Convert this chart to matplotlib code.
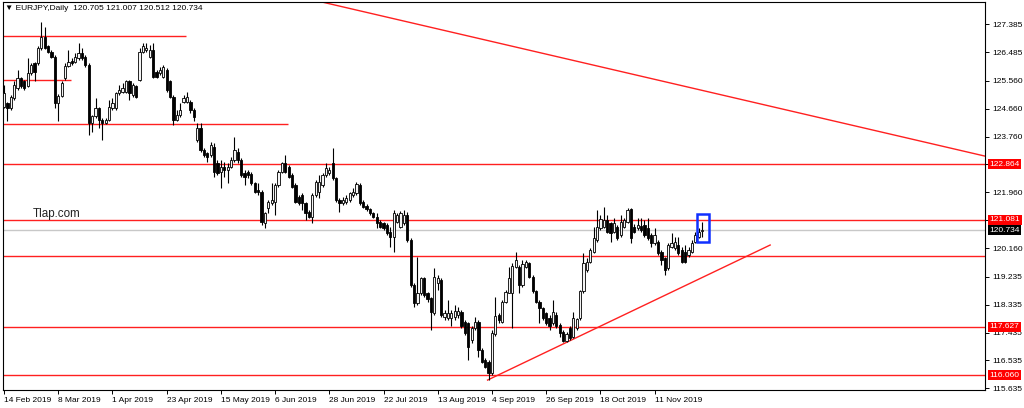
import matplotlib
matplotlib.use('Agg')
import matplotlib.pyplot as plt
import numpy as np
from matplotlib.patches import Rectangle

plt.rcParams['font.family'] = ['Liberation Sans', 'DejaVu Sans']

# EURJPY daily candles, 14 Feb 2019 .. end Nov 2019
opens = [
    124.73, 124.84, 124.67, 125.00, 125.32, 125.64, 125.54, 125.38, 125.81, 126.13,
    126.13, 126.61, 126.99, 126.67, 126.50, 126.34, 124.84, 125.07, 125.64, 126.04,
    126.21, 126.18, 126.29, 126.45, 126.34, 126.07, 124.21, 124.41, 124.67, 124.30,
    124.21, 124.30, 124.67, 124.67, 125.16, 125.21, 125.21, 125.54, 125.11, 125.38,
    125.59, 126.50, 126.56, 126.34, 126.56, 125.86, 125.81, 125.70, 125.91, 125.54,
    125.05, 124.30, 124.46, 124.89, 124.89, 124.89, 124.62, 123.65, 124.03, 123.33,
    123.22, 123.17, 123.44, 122.90, 122.63, 122.79, 122.68, 122.79, 123.00, 123.27,
    123.00, 122.57, 122.61, 122.54, 122.25, 122.04, 121.98, 120.96, 121.44, 121.61,
    121.66, 122.20, 122.63, 122.90, 122.79, 122.52, 122.20, 121.82, 121.88, 121.61,
    121.34, 121.18, 121.88, 121.98, 122.20, 122.52, 122.57, 122.90, 122.41, 121.71,
    121.61, 121.64, 121.71, 121.87, 121.93, 122.20, 121.66, 121.52, 121.41, 121.28,
    121.18, 121.01, 120.96, 120.91, 120.69, 120.53, 121.01, 120.85, 120.96, 121.23,
    120.42, 118.97, 118.38, 118.70, 119.19, 118.70, 118.54, 118.05, 119.02, 119.13,
    117.95, 117.92, 117.92, 117.95, 118.00, 118.11, 117.79, 117.73, 117.19, 117.57,
    117.79, 116.87, 116.55, 116.49, 116.14, 117.39, 118.00, 117.79, 118.43, 118.72,
    118.70, 119.56, 119.56, 118.97, 119.56, 119.67, 119.24, 118.76, 118.43, 118.22,
    118.06, 117.89, 117.73, 118.00, 117.68, 117.46, 117.16, 117.57, 117.30, 117.57,
    117.89, 118.76, 119.45, 119.72, 120.05, 120.42, 120.80, 120.85, 121.07, 120.96,
    120.69, 120.85, 120.58, 120.85, 121.01, 121.42, 120.85, 120.80, 120.88, 120.91,
    120.80, 120.58, 120.31, 120.37, 120.05, 119.83, 119.51, 120.21, 120.15, 120.26,
    120.10, 120.05, 119.94, 120.05, 120.37, 120.53, 120.705,
]
highs = [
    125.43, 124.89, 125.11, 125.54, 125.91, 125.70, 125.59, 126.29, 126.13, 126.18,
    126.67, 127.47, 127.31, 126.72, 126.56, 126.40, 125.14, 125.54, 126.13, 126.56,
    126.29, 126.45, 126.77, 126.61, 126.40, 126.13, 124.46, 125.00, 124.73, 124.35,
    124.35, 124.94, 125.00, 125.21, 125.43, 125.48, 125.59, 125.59, 125.48, 125.43,
    126.61, 126.77, 126.77, 126.72, 126.77, 125.91, 126.02, 126.07, 125.97, 125.59,
    125.11, 124.62, 124.83, 125.10, 125.21, 124.94, 124.67, 124.19, 124.19, 123.38,
    123.27, 123.60, 123.54, 123.00, 123.00, 122.95, 122.90, 123.11, 123.76, 123.38,
    123.06, 122.68, 122.68, 122.63, 122.31, 122.25, 122.04, 121.34, 121.71, 122.25,
    122.25, 122.68, 122.95, 123.17, 122.84, 122.57, 122.25, 121.88, 121.93, 121.66,
    121.39, 121.93, 122.36, 122.52, 122.57, 122.90, 122.79, 123.38, 122.47, 121.77,
    121.82, 121.88, 121.98, 122.09, 122.31, 122.25, 121.71, 121.58, 121.44, 121.34,
    121.28, 121.07, 121.01, 120.96, 120.85, 121.39, 121.28, 121.37, 121.39, 121.34,
    120.48, 119.02, 119.88, 119.24, 119.24, 118.75, 118.59, 119.51, 119.30, 119.19,
    118.16, 118.49, 118.16, 118.32, 118.27, 118.16, 117.84, 117.79, 117.63, 117.95,
    117.84, 116.92, 116.60, 116.55, 117.52, 118.59, 118.05, 118.49, 118.81, 119.56,
    119.67, 120.05, 119.62, 119.78, 119.78, 119.72, 119.29, 118.81, 118.49, 118.27,
    118.11, 118.00, 118.49, 118.11, 117.73, 117.52, 117.46, 117.63, 118.11, 117.91,
    118.81, 119.99, 119.83, 120.15, 120.85, 121.39, 121.23, 121.50, 121.23, 121.01,
    121.12, 120.91, 121.23, 121.12, 121.47, 121.47, 120.93, 121.12, 121.12, 121.07,
    121.12, 120.64, 120.80, 120.42, 120.10, 119.88, 120.31, 120.64, 120.53, 120.53,
    120.21, 120.26, 120.21, 120.42, 120.69, 120.80, 121.007,
]
lows = [
    124.67, 124.25, 124.62, 124.94, 125.27, 125.32, 125.27, 125.35, 125.75, 125.54,
    126.07, 126.56, 126.58, 126.45, 126.29, 124.67, 124.25, 125.03, 125.59, 126.00,
    126.07, 126.13, 126.24, 126.24, 126.02, 123.81, 123.92, 124.35, 124.03, 123.65,
    124.17, 124.25, 124.62, 124.62, 125.11, 125.16, 125.16, 124.94, 125.05, 125.00,
    125.57, 126.45, 126.50, 126.29, 125.64, 125.64, 125.75, 125.64, 125.21, 125.00,
    124.14, 124.25, 124.40, 124.83, 124.83, 124.51, 124.26, 123.60, 123.27, 123.11,
    122.95, 123.11, 122.47, 122.52, 122.09, 122.47, 122.25, 122.74, 122.95, 122.90,
    122.47, 122.20, 122.41, 122.20, 121.93, 121.88, 120.91, 120.80, 121.28, 121.55,
    121.23, 122.14, 122.57, 122.57, 122.41, 122.09, 121.61, 121.55, 121.39, 121.07,
    121.12, 120.96, 121.82, 121.77, 122.14, 122.47, 122.52, 122.36, 121.66, 121.34,
    121.55, 121.57, 121.66, 121.82, 121.87, 121.55, 121.44, 121.37, 121.23, 121.12,
    120.80, 120.80, 120.75, 120.58, 120.21, 120.05, 120.96, 120.80, 120.91, 120.37,
    118.92, 118.27, 118.32, 118.65, 118.59, 118.43, 117.52, 118.00, 118.81, 117.95,
    117.84, 117.84, 117.63, 117.84, 117.92, 117.57, 117.36, 116.55, 117.09, 117.52,
    116.66, 116.44, 116.28, 115.90, 116.06, 117.32, 117.73, 117.73, 118.38, 118.70,
    117.57, 119.51, 118.70, 118.92, 119.51, 119.18, 118.70, 118.38, 117.73, 117.84,
    117.68, 117.52, 117.68, 117.57, 117.30, 117.12, 117.12, 117.19, 117.25, 117.52,
    117.84, 118.70, 119.40, 119.67, 119.99, 120.37, 120.75, 120.80, 120.64, 120.37,
    120.64, 120.42, 120.53, 120.80, 120.96, 120.31, 120.64, 120.75, 120.69, 120.53,
    120.42, 120.21, 120.26, 119.94, 119.62, 119.29, 119.45, 120.15, 120.10, 119.94,
    119.67, 119.67, 119.88, 119.99, 120.31, 120.48, 120.512,
]
closes = [
    125.16, 124.67, 125.05, 125.43, 125.64, 125.38, 125.32, 125.81, 126.07, 125.86,
    126.61, 126.99, 126.61, 126.50, 126.34, 124.84, 125.07, 125.48, 126.04, 126.18,
    126.13, 126.32, 126.45, 126.29, 126.07, 124.19, 124.41, 124.67, 124.30, 124.21,
    124.30, 124.73, 124.84, 125.16, 125.27, 125.32, 125.54, 125.16, 125.43, 125.05,
    126.50, 126.67, 126.61, 126.56, 125.70, 125.70, 125.91, 126.02, 125.27, 125.05,
    124.30, 124.46, 124.62, 125.02, 125.05, 124.62, 124.40, 124.03, 123.33, 123.17,
    123.11, 123.49, 122.63, 122.57, 122.79, 122.68, 122.79, 123.00, 123.33, 123.00,
    122.52, 122.47, 122.52, 122.25, 121.98, 121.96, 121.01, 121.28, 121.66, 121.71,
    122.20, 122.63, 122.90, 122.63, 122.47, 122.14, 121.66, 121.61, 121.61, 121.28,
    121.18, 121.88, 122.31, 122.31, 122.52, 122.74, 122.68, 122.41, 121.71, 121.61,
    121.71, 121.77, 121.93, 121.98, 122.23, 121.61, 121.50, 121.41, 121.28, 121.15,
    120.96, 120.85, 120.80, 120.64, 120.53, 121.28, 121.23, 121.28, 121.23, 120.42,
    118.97, 118.38, 118.70, 119.19, 118.65, 118.51, 118.11, 119.24, 119.19, 118.00,
    118.05, 118.08, 118.08, 118.14, 118.14, 117.63, 117.41, 116.98, 117.57, 117.79,
    116.87, 116.49, 116.33, 116.14, 117.41, 117.97, 117.84, 118.43, 118.75, 119.19,
    119.58, 119.78, 118.97, 119.64, 119.72, 119.24, 118.76, 118.43, 118.22, 117.89,
    117.73, 117.63, 118.11, 117.63, 117.41, 117.16, 117.38, 117.25, 117.91, 117.87,
    118.76, 119.67, 119.72, 120.10, 120.48, 120.85, 121.10, 121.07, 120.69, 120.64,
    120.96, 120.48, 121.01, 121.07, 121.39, 120.48, 120.69, 120.91, 120.75, 120.58,
    120.48, 120.31, 120.58, 119.99, 119.78, 119.45, 120.26, 120.31, 120.37, 119.99,
    119.72, 119.72, 120.10, 120.31, 120.58, 120.69, 120.734,
]

date_ticks = [0, 16, 32, 48, 64, 80, 96, 112, 128, 144, 160, 176, 192]
date_labels = ['14 Feb 2019', '8 Mar 2019', '1 Apr 2019', '23 Apr 2019', '15 May 2019',
               '6 Jun 2019', '28 Jun 2019', '22 Jul 2019', '13 Aug 2019', '4 Sep 2019',
               '26 Sep 2019', '18 Oct 2019', '11 Nov 2019']
price_ticks = [115.635, 116.535, 117.435, 118.335, 119.235, 120.160, 121.060,
               121.960, 122.860, 123.760, 124.660, 125.560, 126.485, 127.385]
hidden_ticks = [121.060, 122.860]   # covered by the level boxes

# drawn objects
full_levels = [122.864, 121.081, 119.915, 117.627, 116.060]
boxed_levels = [122.864, 121.081, 117.627, 116.060]
short_levels = [127.01, 125.59, 124.16]
short_level_ends = [53.7, 19.7, 83.7]
last_price = 120.734
top_trend_x = [94.0, 289.5]
top_trend_y = [128.10, 123.13]
low_trend_x = [142.7, 226.1]
low_trend_y = [115.90, 120.26]
box_x = [204.6, 208.1]
box_y = [120.36, 121.26]

o = np.array(opens)
h = np.array(highs)
l = np.array(lows)
c = np.array(closes)
x = np.arange(len(c))
up = c >= o

fig = plt.figure(figsize=(10.24, 4.08), dpi=100)
ax = fig.add_axes([3 / 1024, 18 / 408, 982 / 1024, 388 / 408])
ax.set_xlim(-0.3, 289.5)
ax.set_ylim(115.58, 128.105)

# levels and trend lines
for lv in full_levels:
    ax.axhline(lv, color='#ff2020', lw=1, zorder=2)
ax.hlines(short_levels, -0.3, short_level_ends, color='#ff2020', lw=1, zorder=2)
ax.axhline(last_price, color='#c8c8c8', lw=1, zorder=1)
ax.plot(top_trend_x, top_trend_y, color='#ff2020', lw=1, zorder=2)
ax.plot(low_trend_x, low_trend_y, color='#ff2020', lw=1, zorder=2)

# candles
ax.vlines(x, l, h, color='black', lw=0.8, zorder=3)
ax.bar(x[up], c[up] - o[up], bottom=o[up], width=0.66, color='#f4f4f4',
       edgecolor='black', linewidth=0.6, zorder=4)
ax.bar(x[~up], c[~up] - o[~up], bottom=o[~up], width=0.66, color='black',
       edgecolor='black', linewidth=0.6, zorder=4)

ax.add_patch(Rectangle((box_x[0], box_y[0]), box_x[1] - box_x[0], box_y[1] - box_y[0],
                       fill=False, edgecolor='#1030ff', lw=1.8, zorder=6))

# axes
for sp in ax.spines.values():
    sp.set_color('black')
    sp.set_linewidth(0.8)
ax.yaxis.tick_right()
ax.set_yticks(price_ticks)
ax.set_yticklabels(['' if p in hidden_ticks else '%.3f' % p for p in price_ticks])
ax.set_xticks(date_ticks)
ax.set_xticklabels(date_labels, ha='left')
ax.tick_params(axis='both', labelsize=6, length=3, width=0.7, pad=2, colors='black')

ytr = ax.get_yaxis_transform()
for lv in boxed_levels:
    ax.text(1.0045, lv, '%.3f' % lv, transform=ytr, color='white', fontsize=6,
            va='center', ha='left', clip_on=False, zorder=10,
            bbox=dict(boxstyle='square,pad=0.18', fc='#ff0000', ec='none'))
ax.text(1.0045, last_price, '%.3f' % last_price, transform=ytr, color='white', fontsize=6,
        va='center', ha='left', clip_on=False, zorder=10,
        bbox=dict(boxstyle='square,pad=0.18', fc='black', ec='none'))

ax.text(8.5, 121.165, 'Tlap.com', fontsize=8.4, color='#222222', va='baseline', zorder=7)

fig.text(5 / 1024, 1 - 9 / 408, '\u25bc EURJPY,Daily  120.705 121.007 120.512 120.734',
         fontsize=6, va='center', ha='left')

fig.savefig('out.png', dpi=100, facecolor='white')
